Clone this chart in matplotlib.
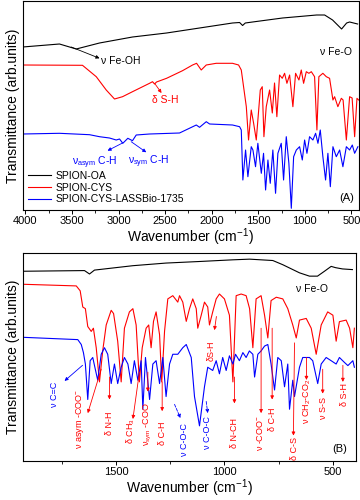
import matplotlib
matplotlib.use("Agg")
import matplotlib.pyplot as plt
from matplotlib.ticker import MultipleLocator

plt.rcParams['font.family'] = ['Liberation Sans', 'DejaVu Sans']
plt.rcParams['mathtext.default'] = 'regular'

# ---------------- Panel A data (wavenumber, transmittance a.u.) ----------------
a_oa_w = [4030, 3635, 3455, 3205, 2851, 2485, 2131, 1777, 1701, 1669, 1640, 1562, 1240, 874, 788, 703, 606, 552, 520, 434]
a_oa_t = [163, 166, 161, 167, 173, 177, 182, 187, 187.5, 184.5, 187, 188, 192, 195, 195, 190, 181, 187, 188, 186]

a_cys_w = [4030, 3388, 3240, 3133, 3044, 2958, 2851, 2668, 2636, 2614, 2593, 2485, 2314, 2206, 2163, 2113, 2059, 1952, 1777, 1712, 1683,
           1629, 1605, 1576, 1551, 1522, 1479, 1458, 1440, 1415, 1379, 1350, 1326, 1301, 1272, 1243, 1218, 1193, 1164, 1129, 1100,
           1064, 1039, 1014, 985, 957, 931, 896, 871, 850, 807, 770, 735, 699, 681, 646, 609, 590, 555, 520, 493, 466, 441, 423]
a_cys_t = [145, 144.7, 133.3, 120, 111, 113.3, 118.3, 126.7, 128.3, 126, 128, 131.7, 139.3, 145, 146.7, 140, 145, 146.7, 146.7, 145, 140,
           103.3, 70, 100, 87, 70, 120, 123.3, 73.3, 103.3, 120, 97, 127, 93.3, 135, 131.7, 136.7, 126.7, 135, 103.3, 136.7,
           130, 140, 126.7, 138.3, 136.7, 138.3, 133.3, 80, 133.3, 136.7, 133.3, 131.7, 110, 113.3, 103.3, 111.7, 110, 70, 113.3, 112, 73.3, 111.7, 110]

a_las_w = [4030, 3635, 3312, 3205, 3098, 3026, 2990, 2955, 2901, 2851, 2811, 2668, 2346, 2166, 2131, 2059, 2023, 1777, 1701, 1683,
           1666, 1637, 1612, 1576, 1558, 1530, 1505, 1468, 1444, 1422, 1397, 1372, 1344, 1315, 1290, 1254, 1229, 1200, 1172, 1146,
           1121, 1092, 1057, 1028, 1003, 978, 950, 914, 885, 860, 835, 807, 778, 753, 727, 699, 663, 627, 592, 555, 520, 491, 466, 431]
a_las_t = [76, 76.7, 75.3, 73.3, 72, 70, 71, 66.7, 71.7, 69.3, 75, 76, 77, 85, 82.7, 88.3, 86, 85, 83.3, 80,
           30, 60, 33.3, 63.3, 60, 43.3, 66.7, 36.7, 56.7, 20, 50, 26.7, 60, 16.7, 56.7, 66.7, 30, 73.3, 46.7, 1.7,
           53.3, 60, 63.3, 50, 70, 56.7, 73.3, 70, 76.7, 66.7, 80, 53.3, 30, 56.7, 23.3, 63.3, 53.3, 60, 43.3, 63.3, 60, 65, 56.7, 63.3]

# ---------------- Panel B data ----------------
b_oa_w = [1932, 1645, 1622, 1599, 1422, 1269, 1115, 963, 884, 777, 731, 654, 608, 571, 539, 508, 488, 456, 410]
b_oa_t = [194.3, 195, 191.5, 195.5, 200, 202.7, 204.3, 206, 206.7, 205.3, 201, 192.7, 189.3, 189.3, 194.3, 199.3, 198, 196.7, 196]

b_cys_w = [1932, 1683, 1665, 1653, 1641, 1630, 1614, 1604, 1591, 1576, 1561, 1545, 1522, 1511, 1492, 1476, 1461, 1438, 1422, 1407,
           1392, 1379, 1361, 1349, 1338, 1327, 1315, 1299, 1289, 1276, 1261, 1238, 1215, 1207, 1192, 1176, 1161, 1146, 1130, 1123,
           1107, 1092, 1077, 1069, 1054, 1038, 1023, 1000, 977, 961, 946, 923, 900, 884, 869, 854, 831, 815, 800, 785,
           761, 731, 708, 685, 669, 654, 623, 600, 577, 554, 524, 500, 485, 470, 439, 423, 408, 401]
b_cys_t = [181, 179.3, 174.3, 157.7, 156, 137.7, 132.7, 136, 116, 81, 113, 139.3, 154.3, 151, 122.7, 81, 136, 152.7, 156, 139.3,
           81, 116, 136, 139.3, 116, 143, 152.7, 129.3, 81, 133, 166, 169.3, 162.7, 169.3, 162.7, 143, 156, 166, 156, 136,
           149.3, 162.7, 157.7, 139.3, 152.7, 166, 171, 166, 149.3, 81, 169.3, 171, 169.3, 156, 116, 166, 169.3, 149.3, 126, 164.3,
           167.7, 166, 156, 139.3, 126, 144.3, 146, 136, 109.3, 139.3, 152.7, 149.3, 122.7, 142.7, 144.3, 136, 116, 136]

b_las_w = [1932, 1676, 1660, 1650, 1641, 1630, 1619, 1607, 1594, 1584, 1568, 1553, 1538, 1522, 1507, 1492, 1476, 1461, 1445, 1430,
           1415, 1399, 1384, 1376, 1364, 1345, 1330, 1315, 1299, 1284, 1269, 1253, 1238, 1215, 1192, 1176, 1153, 1138, 1115, 1092,
           1077, 1054, 1038, 1023, 1008, 992, 977, 961, 949, 931, 915, 900, 885, 869, 861, 846, 831, 815, 800, 785,
           769, 754, 738, 723, 708, 700, 685, 677, 654, 639, 608, 593, 570, 554, 531, 508, 485, 470, 447, 431, 408, 401]
b_las_t = [126.7, 124.3, 119.3, 111, 99.3, 63, 102.7, 106, 92.7, 82.7, 109.3, 116, 109.3, 79.3, 99.3, 79.3, 96, 106, 99.3, 79.3,
           102.7, 82.7, 102.7, 53, 106, 63, 99.3, 102.7, 79.3, 106, 66, 99.3, 109.3, 109.3, 116, 119.3, 106, 66, 36, 76,
           96, 92.7, 102.7, 89.3, 106, 92.7, 107.7, 99.3, 109.3, 102.7, 111, 106, 112.7, 109.3, 86, 109.3, 112.7, 117.7, 119.3, 99.3,
           72.7, 106, 102.7, 76, 99.3, 53, 82.7, 66, 96, 106, 106, 102.7, 79.3, 99.3, 106, 102.7, 99.3, 106, 101, 97.7, 102.7, 96]

series_labels = ['SPION-OA', 'SPION-CYS', 'SPION-CYS-LASSBio-1735']
series_colors = ['black', '#ff0000', '#0000ff']

BLUE = '#0000ff'
RED = '#ff0000'

fig = plt.figure(figsize=(3.6, 5.0), dpi=100)
axA = fig.add_axes([0.063, 0.58, 0.934, 0.418])
axB = fig.add_axes([0.063, 0.078, 0.925, 0.416])

lw = 0.8
for ax, data in ((axA, [(a_oa_w, a_oa_t), (a_cys_w, a_cys_t), (a_las_w, a_las_t)]),
                 (axB, [(b_oa_w, b_oa_t), (b_cys_w, b_cys_t), (b_las_w, b_las_t)])):
    for (w, t), lab, col in zip(data, series_labels, series_colors):
        ax.plot(w, t, color=col, lw=lw, label=lab)
    ax.set_yticks([])
    ax.tick_params(axis='x', direction='out', labelsize=8, length=3, width=0.7, pad=1.5)
    ax.tick_params(axis='x', which='minor', direction='out', length=2, width=0.6)
    for s in ax.spines.values():
        s.set_linewidth(0.8)
    ax.set_ylabel('Transmittance (arb.units)', fontsize=10, labelpad=2)
    ax.set_xlabel('Wavenumber (cm$^{-1}$)', fontsize=10, labelpad=0)

axA.set_xlim(4030, 420)
axA.set_ylim(0, 209)
axA.xaxis.set_major_locator(MultipleLocator(500))
axA.xaxis.set_minor_locator(MultipleLocator(250))

axB.set_xlim(1930, 395)
axB.set_ylim(0, 213)
axB.xaxis.set_major_locator(MultipleLocator(500))
axB.xaxis.set_minor_locator(MultipleLocator(250))

axA.legend(loc='lower left', frameon=False, fontsize=7.5, handlelength=2.2,
           labelspacing=0.15, borderaxespad=0.15, handletextpad=0.4)

def arrow(ax, start, end, color, ls='-'):
    ax.annotate('', xy=end, xytext=start,
                arrowprops=dict(arrowstyle='-|>', color=color, lw=0.6, ls=ls,
                                mutation_scale=5, shrinkA=0, shrinkB=0))

fs = 7.5
# Panel A annotations
arrow(axA, (3509, 163), (3205, 151.7), 'black')
axA.text(3184, 149, 'ν Fe-OH', fontsize=fs, ha='left', va='center')
axA.text(842, 158, 'ν Fe-O', fontsize=fs, ha='left', va='center')
arrow(axA, (2614, 126.7), (2539, 117), RED)
axA.text(2496, 110, 'δ S-H', fontsize=fs, color=RED, ha='center', va='center')
arrow(axA, (2958, 67), (3119, 59.3), BLUE)
arrow(axA, (2865, 68.3), (2703, 57.7), BLUE)
axA.text(3259, 47, 'ν$_{asym}$ C-H', fontsize=fs, color=BLUE, ha='center', va='center')
axA.text(2679, 48, 'ν$_{sym}$ C-H', fontsize=fs, color=BLUE, ha='center', va='center')
axA.text(0.985, 0.035, '(A)', transform=axA.transAxes, fontsize=8, ha='right', va='bottom')

# Panel B annotations
axB.text(668, 176, 'ν Fe-O', fontsize=fs, ha='left', va='center')
axB.text(0.975, 0.035, '(B)', transform=axB.transAxes, fontsize=8, ha='right', va='bottom')

fsv = 6.5
# blue labels
arrow(axB, (1654, 98), (1737, 82), BLUE)
axB.text(1783, 68, 'ν C=C', fontsize=fsv, color=BLUE, rotation=90, ha='center', va='center')
arrow(axB, (1230, 58), (1203, 44), BLUE, ls='--')
axB.text(1184, 22, 'ν C-O-C', fontsize=fsv, color=BLUE, rotation=90, ha='center', va='center')
arrow(axB, (1084, 61), (1077, 49), BLUE, ls='--')
axB.text(1078, 29, 'ν C-O-C', fontsize=fsv, color=BLUE, rotation=90, ha='center', va='center')

# red labels: (arrow start, arrow end, text pos, text)
red_labels = [
    ((1568, 94), (1630, 49), (1668, 43), 'ν asym -COO$^{-}$'),
    ((1530, 86), (1530, 63), (1530, 39), 'δ N-H'),
    ((1392, 91), (1422, 43), (1430, 31), 'δ CH$_3$'),
    ((1353, 91), (1353, 71), (1353, 38), 'ν$_{sym}$ -COO'),
    ((1287, 81), (1287, 51), (1284, 28), 'δ C-H'),
    ((954, 86), (954, 59), (954, 29), 'δ N-CH'),
    ((831, 136), (831, 49), (838, 29), 'ν -COO$^{-}$'),
    ((780, 136), (780, 63), (779, 43), 'δ C-H'),
    ((677, 121), (682, 26), (677, 13), 'δ C-S'),
    ((622, 106), (622, 83), (617, 61), 'ν CH$_2$-CO$_2$'),
    ((547, 94), (547, 69), (543, 54), 'ν S-S'),
    ((454, 98), (454, 81), (447, 68), 'δ S-H'),
    ((1037, 148), (1046, 134), (1060, 113), 'δS-H'),
]
for st, en, tp, txt in red_labels:
    arrow(axB, st, en, RED)
    axB.text(tp[0], tp[1], txt, fontsize=fsv, color=RED, rotation=90, ha='center', va='center')

fig.savefig('out.png', dpi=100)
